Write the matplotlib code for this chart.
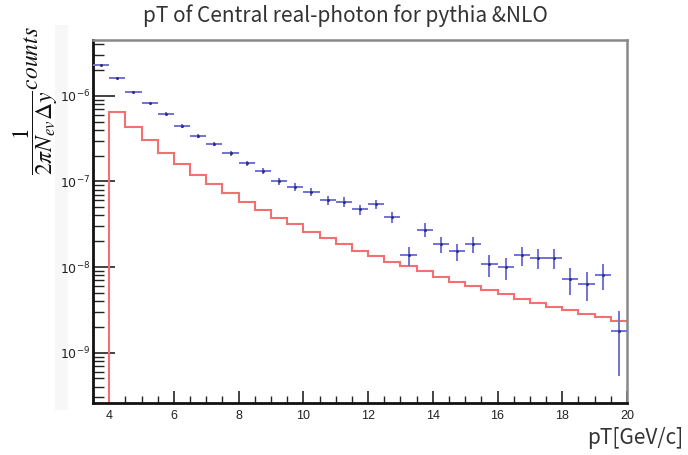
import numpy as np
import matplotlib
matplotlib.use("Agg")
import matplotlib.pyplot as plt
from matplotlib.ticker import MultipleLocator, LogLocator, FixedLocator, NullFormatter

# ---- data ----
bin_edges = np.arange(3.5, 20.01, 0.5)
pythia_x = [3.75, 4.25, 4.75, 5.25, 5.75, 6.25, 6.75, 7.25, 7.75, 8.25, 8.75,
            9.25, 9.75, 10.25, 10.75, 11.25, 11.75, 12.25, 12.75, 13.25, 13.75,
            14.25, 14.75, 15.25, 15.75, 16.25, 16.75, 17.25, 17.75, 18.25, 18.75,
            19.25, 19.75]
pythia_y = [2.28e-6, 1.62e-6, 1.10e-6, 8.2e-7, 6.17e-7, 4.43e-7, 3.39e-7, 2.71e-7,
            2.14e-7, 1.63e-7, 1.32e-7, 9.97e-8, 8.67e-8, 7.57e-8, 6.07e-8, 5.79e-8,
            4.72e-8, 5.44e-8, 3.81e-8, 1.38e-8, 2.74e-8, 1.86e-8, 1.52e-8, 1.86e-8,
            1.08e-8, 9.88e-9, 1.38e-8, 1.29e-8, 1.29e-8, 7.25e-9, 6.34e-9, 8.07e-9,
            1.79e-9]
pythia_err = [4.45e-8, 3.75e-8, 3.09e-8, 2.67e-8, 2.32e-8, 1.96e-8, 1.72e-8, 1.54e-8,
              1.36e-8, 1.19e-8, 1.07e-8, 9.3e-9, 8.7e-9, 8.1e-9, 7.3e-9, 7.1e-9,
              6.4e-9, 6.9e-9, 5.8e-9, 3.5e-9, 4.9e-9, 4.0e-9, 3.6e-9, 4.0e-9,
              3.1e-9, 2.9e-9, 3.5e-9, 3.35e-9, 3.35e-9, 2.5e-9, 2.35e-9, 2.65e-9,
              1.25e-9]
nlo_y = [0.0, 6.5e-7, 4.3e-7, 3.04e-7, 2.17e-7, 1.59e-7, 1.2e-7, 9.3e-8, 7.3e-8,
         5.8e-8, 4.6e-8, 3.75e-8, 3.15e-8, 2.59e-8, 2.16e-8, 1.86e-8, 1.55e-8,
         1.35e-8, 1.15e-8, 1.02e-8, 9.0e-9, 7.6e-9, 6.75e-9, 6.0e-9, 5.4e-9,
         4.8e-9, 4.24e-9, 3.84e-9, 3.44e-9, 3.15e-9, 2.83e-9, 2.59e-9, 2.34e-9]
y_ticks = [1e-9, 1e-8, 1e-7, 1e-6]
y_ticklabels = [r"$10^{-9}$", r"$10^{-8}$", r"$10^{-7}$", r"$10^{-6}$"]
x_ticks = [4, 6, 8, 10, 12, 14, 16, 18, 20]

title_font = ["Noto Sans CJK JP", "DejaVu Sans"]
tick_font = ["Liberation Sans", "DejaVu Sans"]

fig = plt.figure(figsize=(6.88, 4.55), dpi=100)

# faint panel behind y label (drawn beneath everything)
fig.patches.append(matplotlib.patches.Rectangle(
    (55 / 688, 1 - 410 / 455), 13 / 688, 385 / 455, transform=fig.transFigure,
    facecolor="#f7f7f7", edgecolor="none", zorder=-5))

ax = fig.add_axes([0.1352, 0.1149, 0.7761, 0.7972])
ax.set_yscale("log", nonpositive="clip")

# NLO histogram
ax.stairs(nlo_y, bin_edges, color="#f27070", linewidth=1.5, baseline=None, zorder=2)

# pythia points with errors
ax.errorbar(pythia_x, pythia_y, yerr=pythia_err, xerr=0.25, fmt="none",
            ecolor="#7272d8", elinewidth=1.4, capsize=0, zorder=3)
ax.plot(pythia_x, pythia_y, linestyle="none", marker="o", markersize=1.2,
        color="#303080", zorder=4)

ax.set_xlim(3.5, 20)
ax.set_ylim(2.6e-10, 4.48e-6)

# ticks
ax.xaxis.set_major_locator(FixedLocator(x_ticks))
ax.xaxis.set_minor_locator(MultipleLocator(0.5))
ax.set_xticklabels([str(v) for v in x_ticks])
ax.yaxis.set_major_locator(FixedLocator(y_ticks))
ax.set_yticklabels(y_ticklabels)
ax.yaxis.set_minor_locator(LogLocator(base=10, subs=np.arange(2, 10)))
ax.yaxis.set_minor_formatter(NullFormatter())
ax.tick_params(axis="both", which="both", direction="in", top=False, right=False,
               colors="#222222", labelcolor="#222222")
ax.tick_params(axis="x", which="major", length=9, width=1.2, labelsize=9, pad=5)
ax.tick_params(axis="x", which="minor", length=5, width=1.0)
ax.tick_params(axis="y", which="major", length=16, width=1.2, labelsize=9, pad=2)
ax.tick_params(axis="y", which="minor", length=8, width=1.0)
for lbl in ax.get_xticklabels() + ax.get_yticklabels():
    lbl.set_fontfamily(tick_font)
    lbl.set_zorder(5)

for side in ("left", "bottom"):
    ax.spines[side].set_color("#111111")
    ax.spines[side].set_linewidth(2.0)
for side in ("top", "right"):
    ax.spines[side].set_color("#888888")
    ax.spines[side].set_linewidth(1.8)

# title and labels
fig.text(0.502, 0.965, "pT of Central real-photon for pythia &NLO",
         ha="center", va="center", fontsize=15, family=title_font, color="#333333")
fig.text(0.994, 0.037, "pT[GeV/c]", ha="right", va="center", fontsize=15,
         family=title_font, color="#333333")

fig.text(0.052, 0.78, r"$\dfrac{1}{2\pi N_{ev}\Delta y}counts$", rotation=90,
         ha="center", va="center", fontsize=17, math_fontfamily="stix", color="#111111")

fig.savefig("out.png", dpi=100)
